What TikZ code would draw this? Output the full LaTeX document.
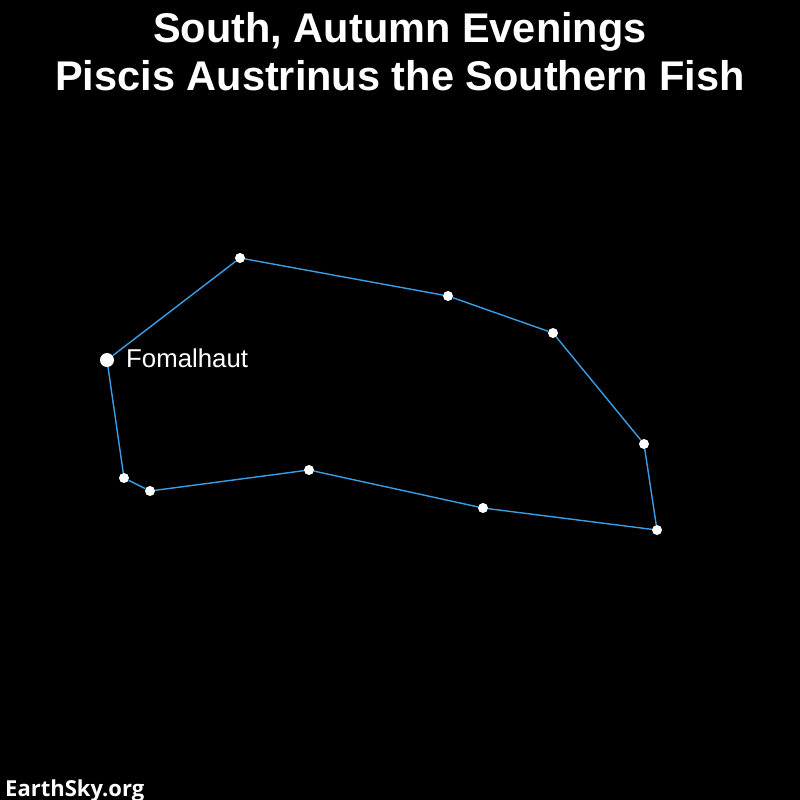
\documentclass[tikz,border=0pt]{standalone}
\usepackage{fontspec}
\usepackage{xcolor}
\usetikzlibrary{calc}
\setmainfont{Liberation Sans}
\newfontfamily\titlefont{Liberation Sans Bold}
\newfontfamily\logofont{Open Sans Bold}
\definecolor{sky}{HTML}{000000}
\definecolor{figline}{HTML}{3A9EE6}
\tikzset{
 star/.style={circle,fill=white,inner sep=0pt,minimum size=10pt},
 bright/.style={star,minimum size=14pt},
 figure line/.style={figline,line width=1.4pt}
}

\begin{document}
\begin{tikzpicture}[x=1pt,y=-1pt]
 \fill[sky] (0,0) rectangle (800,800);
 \useasboundingbox (0,0) rectangle (800,800);
 % title
 \node[white,anchor=base,font=\titlefont\fontsize{41.5}{47}\selectfont] (title1) at (400,43) {South, Autumn Evenings};
 \node[white,anchor=base,font=\titlefont\fontsize{41.5}{47}\selectfont] (title2) at (400,90) {Piscis Austrinus the Southern Fish};
 % stars
 \node[bright] (fomalhaut) at (107,360) {};
 \node[star] (s1) at (240,258) {};
 \node[star] (s2) at (448,296) {};
 \node[star] (s3) at (553,333) {};
 \node[star] (s4) at (644,444) {};
 \node[star] (s5) at (657,530) {};
 \node[star] (s6) at (483,508) {};
 \node[star] (s7) at (309,470) {};
 \node[star] (s8) at (150,491) {};
 \node[star] (s9) at (124,478) {};
 % figure
 \draw[figure line] (fomalhaut)--(s1)--(s2)--(s3)--(s4)--(s5)--(s6)--(s7)--(s8)--(s9)--(fomalhaut);
 \node[white,anchor=base west,inner sep=0pt,font=\fontsize{25.8}{29}\selectfont] (fomalhautlabel) at (126,367) {Fomalhaut};
 \node[white,anchor=base west,font=\logofont\fontsize{22}{26}\selectfont,inner sep=0pt] (logo) at (5,796) {EarthSky.org};
\end{tikzpicture}
\end{document}
